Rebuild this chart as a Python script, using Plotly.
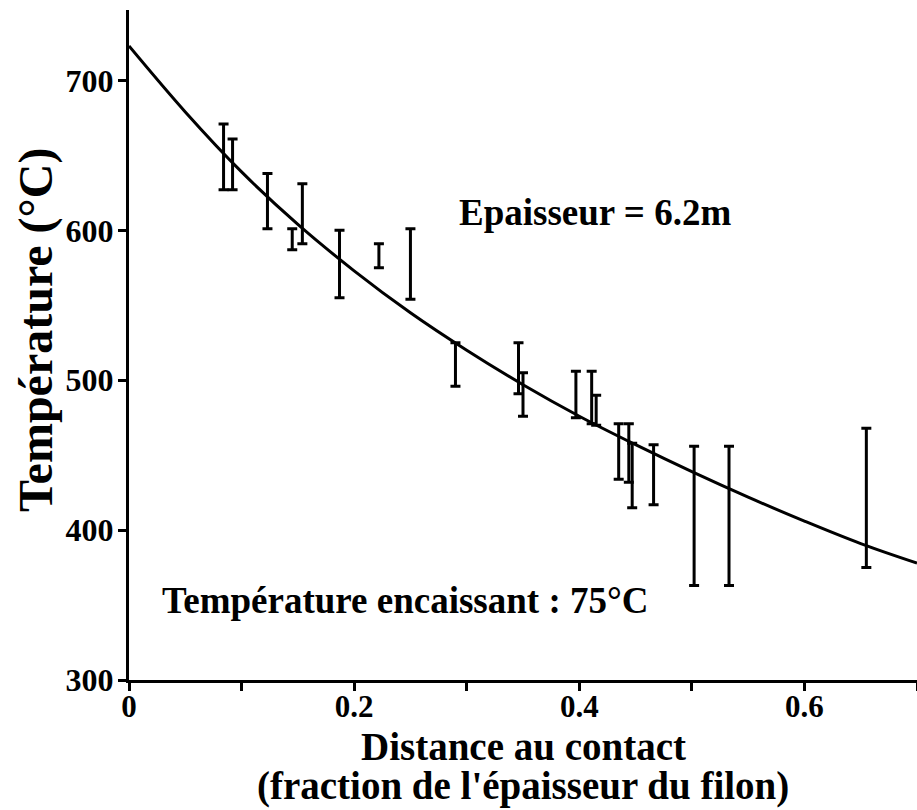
import plotly.graph_objects as go

# Measured temperature ranges along the profile (distance as fraction of dyke thickness)
distance = [0.084, 0.092, 0.123, 0.145, 0.154, 0.187, 0.222, 0.250, 0.290,
            0.346, 0.350, 0.397, 0.411, 0.415, 0.435, 0.444, 0.447, 0.466,
            0.502, 0.533, 0.655]
temp_high = [671, 661, 638, 601, 631, 600, 591, 601, 525,
             525, 505, 506, 506, 490, 471, 471, 458, 457,
             456, 456, 468]
temp_low = [627, 627, 601, 587, 591, 555, 575, 554, 496,
            491, 476, 475, 471, 470, 434, 432, 415, 417,
            363, 363, 375]

# Model cooling curve
curve_x = [0.0, 0.05, 0.10, 0.15, 0.20, 0.25, 0.30, 0.35, 0.40,
           0.45, 0.50, 0.55, 0.60, 0.65, 0.70]
curve_t = [723, 679, 639, 604, 573, 545, 520, 497, 476,
           457, 439, 422, 406, 391, 378]

x_ticks = [0, 0.2, 0.4, 0.6]
x_tick_text = ["0", "0.2", "0.4", "0.6"]
y_ticks = [300, 400, 500, 600, 700]

mid = [(h + l) / 2 for h, l in zip(temp_high, temp_low)]
half = [(h - l) / 2 for h, l in zip(temp_high, temp_low)]

FONT = "Liberation Serif"
PLOT_H = 670  # plot area height in px (810 - top 10 - bottom 130)

fig = go.Figure()
fig.add_trace(go.Scatter(
    x=curve_x, y=curve_t, mode="lines", line=dict(color="black", width=3, shape="spline"),
    hoverinfo="skip", showlegend=False))
fig.add_trace(go.Scatter(
    x=distance, y=mid, mode="markers", marker=dict(size=1, color="rgba(0,0,0,0)"),
    error_y=dict(type="data", array=half, visible=True, color="black", thickness=3, width=5),
    showlegend=False))

fig.add_annotation(x=0.414, y=612, text="<b>Epaisseur = 6.2m</b>", showarrow=False,
                   font=dict(family=FONT, size=37, color="black"))
fig.add_annotation(x=0.246, y=353, text="<b>Température encaissant : 75°C</b>", showarrow=False,
                   font=dict(family=FONT, size=37, color="black"))

# Axis titles
fig.add_annotation(xref="paper", yref="paper", x=0.5, y=-(746 - 680) / PLOT_H,
                   text="<b>Distance au contact</b>", showarrow=False,
                   xanchor="center", yanchor="middle",
                   font=dict(family=FONT, size=39, color="black"))
fig.add_annotation(xref="paper", yref="paper", x=0.5, y=-(786 - 680) / PLOT_H,
                   text="<b>(fraction de l'épaisseur du filon)</b>", showarrow=False,
                   xanchor="center", yanchor="middle",
                   font=dict(family=FONT, size=39, color="black"))
fig.add_annotation(xref="paper", yref="paper", x=-(129 - 36) / 788, y=(680 - 330) / PLOT_H,
                   text="<b>Température (°C)</b>", showarrow=False, textangle=-90,
                   xanchor="center", yanchor="middle",
                   font=dict(family=FONT, size=48, color="black"))

fig.update_layout(
    width=917, height=810,
    margin=dict(l=129, r=0, t=10, b=130),
    paper_bgcolor="white", plot_bgcolor="white",
    font=dict(family=FONT, color="black"),
)
fig.update_xaxes(
    range=[0, 0.70], showgrid=False, zeroline=False,
    showline=True, linecolor="black", linewidth=3,
    tickmode="array", tickvals=x_ticks, ticktext=[f"<b>{t}</b>" for t in x_tick_text],
    ticks="outside", ticklen=8, tickwidth=3, tickcolor="black",
    minor=dict(dtick=0.1, ticks="outside", ticklen=8, tickwidth=3, tickcolor="black", showgrid=False),
    tickfont=dict(family=FONT, size=31), ticklabelstandoff=-11,
)
fig.update_yaxes(
    range=[300, 747], showgrid=False, zeroline=False,
    showline=True, linecolor="black", linewidth=3,
    tickmode="array", tickvals=y_ticks, ticktext=[f"<b>{t}</b>" for t in y_ticks],
    ticks="outside", ticklen=8, tickwidth=3, tickcolor="black",
    tickfont=dict(family=FONT, size=32), ticklabelstandoff=-2,
)

fig.write_html("out.html")
